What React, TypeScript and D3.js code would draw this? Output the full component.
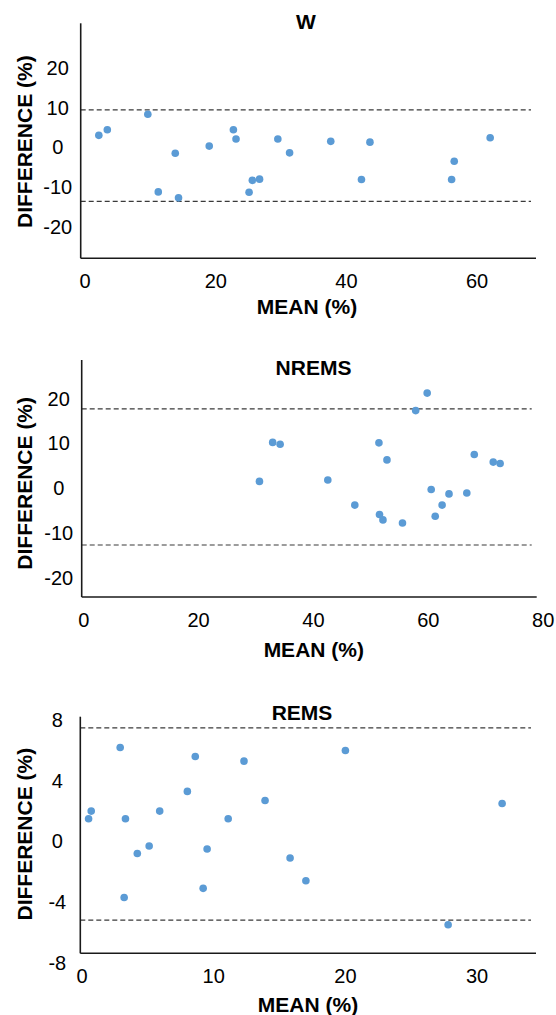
import React from "react";
import * as d3 from "d3";

// W
const wMean = [2.1, 3.4, 9.6, 11.2, 13.8, 14.3, 19.0, 22.7, 23.1, 25.1, 25.6, 26.7, 29.5, 31.3, 37.6, 42.3, 43.6, 56.1, 56.5, 62.0];
const wDiff = [3.0, 4.4, 8.3, -11.2, -1.5, -12.7, 0.3, 4.4, 2.1, -11.3, -8.3, -8.0, 2.1, -1.4, 1.5, -8.1, 1.3, -8.1, -3.5, 2.4];
const wLimits = [9.4, -13.6];
const wXTicks = [0, 20, 40, 60];
const wYTicks = [-20, -10, 0, 10, 20];

// NREMS
const nremsMean = [30.6, 32.9, 34.2, 42.5, 47.2, 51.4, 51.5, 52.1, 52.8, 55.5, 57.8, 59.8, 60.5, 61.2, 62.4, 63.6, 66.7, 68.0, 71.3, 72.5];
const nremsDiff = [1.5, 10.2, 9.8, 1.8, -3.8, 10.1, -5.9, -7.1, 6.3, -7.8, 17.3, 21.2, -0.3, -6.3, -3.8, -1.3, -1.1, 7.5, 5.8, 5.5];
const nremsLimits = [17.7, -12.7];
const nremsXTicks = [0, 20, 40, 60, 80];
const nremsYTicks = [-20, -10, 0, 10, 20];

// REMS
const remsMean = [0.5, 0.7, 2.9, 3.2, 3.3, 4.2, 5.1, 5.9, 8.0, 8.6, 9.2, 9.5, 11.1, 12.3, 13.9, 15.8, 17.0, 20.0, 27.8, 31.9];
const remsDiff = [1.5, 2.0, 6.2, -3.7, 1.5, -0.8, -0.3, 2.0, 3.3, 5.6, -3.1, -0.5, 1.5, 5.3, 2.7, -1.1, -2.6, 6.0, -5.5, 2.5];
const remsLimits = [7.5, -5.2];
const remsXTicks = [0, 10, 20, 30];
const remsYTicks = [-8, -4, 0, 4, 8];

const FONT = "'Liberation Sans', Arial, Helvetica, sans-serif";
const DOT = "#5b9bd5";

type PanelProps = {
  title: string;
  mean: number[];
  diff: number[];
  limits: number[];
  xTicks: number[];
  yTicks: number[];
  box: { left: number; right: number; top: number; bottom: number };
  xRange: [number, number];
  yRange: [number, number];
  titlePos: [number, number];
  xTitlePos: [number, number];
  yTitleY: number;
};

const Panel = (p: PanelProps) => {
  const x = d3
    .scaleLinear()
    .domain([p.xTicks[0], p.xTicks[p.xTicks.length - 1]])
    .range(p.xRange);
  const y = d3
    .scaleLinear()
    .domain([p.yTicks[0], p.yTicks[p.yTicks.length - 1]])
    .range(p.yRange);
  const { left, right, top, bottom } = p.box;

  return (
    <g fontFamily={FONT}>
      {p.limits.map((v, i) => (
        <line
          key={"lim" + i}
          x1={left}
          x2={right - 5}
          y1={y(v)}
          y2={y(v)}
          stroke="#3a3a3a"
          strokeWidth={1.2}
          strokeDasharray="5,3"
        />
      ))}
      <line x1={left} x2={left} y1={top} y2={bottom} stroke="#1a1a1a" strokeWidth={1.6} />
      <line x1={left} x2={right} y1={bottom} y2={bottom} stroke="#1a1a1a" strokeWidth={1.6} />

      {p.mean.map((m, i) => (
        <circle key={i} cx={x(m)} cy={y(p.diff[i])} r={3.8} fill={DOT} />
      ))}

      {p.xTicks.map((t) => (
        <text key={"xt" + t} x={x(t)} y={bottom + 30} textAnchor="middle" fontSize={20} fill="#000">
          {t}
        </text>
      ))}
      {p.yTicks.map((t) => (
        <text key={"yt" + t} x={left - 23} y={y(t)} dy="0.35em" textAnchor="middle" fontSize={20} fill="#000">
          {t}
        </text>
      ))}

      <text x={p.titlePos[0]} y={p.titlePos[1]} textAnchor="middle" fontSize={21} fontWeight="bold" fill="#000">
        {p.title}
      </text>
      <text x={p.xTitlePos[0]} y={p.xTitlePos[1]} textAnchor="middle" fontSize={21} fontWeight="bold" fill="#000">
        MEAN (%)
      </text>
      <text
        transform={`translate(25,${p.yTitleY}) rotate(-90)`}
        dy="0.35em"
        textAnchor="middle"
        fontSize={21}
        fontWeight="bold"
        fill="#000"
      >
        DIFFERENCE (%)
      </text>
    </g>
  );
};

export default function App() {
  return (
    <svg
      width={556}
      height={1015}
      style={{ position: "absolute", left: 0, top: 0, background: "#fff" }}
    >
      <Panel
        title="W"
        mean={wMean}
        diff={wDiff}
        limits={wLimits}
        xTicks={wXTicks}
        yTicks={wYTicks}
        box={{ left: 80.7, right: 536, top: 23.3, bottom: 258.3 }}
        xRange={[85.1, 477.1]}
        yRange={[226.9, 67.7]}
        titlePos={[306, 29]}
        xTitlePos={[307, 313.5]}
        yTitleY={141.7}
      />
      <Panel
        title="NREMS"
        mean={nremsMean}
        diff={nremsDiff}
        limits={nremsLimits}
        xTicks={nremsXTicks}
        yTicks={nremsYTicks}
        box={{ left: 81.7, right: 536.7, top: 360, bottom: 597 }}
        xRange={[83.7, 543.2]}
        yRange={[577.7, 398.5]}
        titlePos={[313.5, 374.5]}
        xTitlePos={[313.8, 656.5]}
        yTitleY={483.3}
      />
      <Panel
        title="REMS"
        mean={remsMean}
        diff={remsDiff}
        limits={remsLimits}
        xTicks={remsXTicks}
        yTicks={remsYTicks}
        box={{ left: 80.3, right: 536, top: 716.7, bottom: 953.3 }}
        xRange={[82, 477.1]}
        yRange={[962.6, 720.2]}
        titlePos={[302, 720]}
        xTitlePos={[308, 1011.5]}
        yTitleY={834.2}
      />
    </svg>
  );
}
